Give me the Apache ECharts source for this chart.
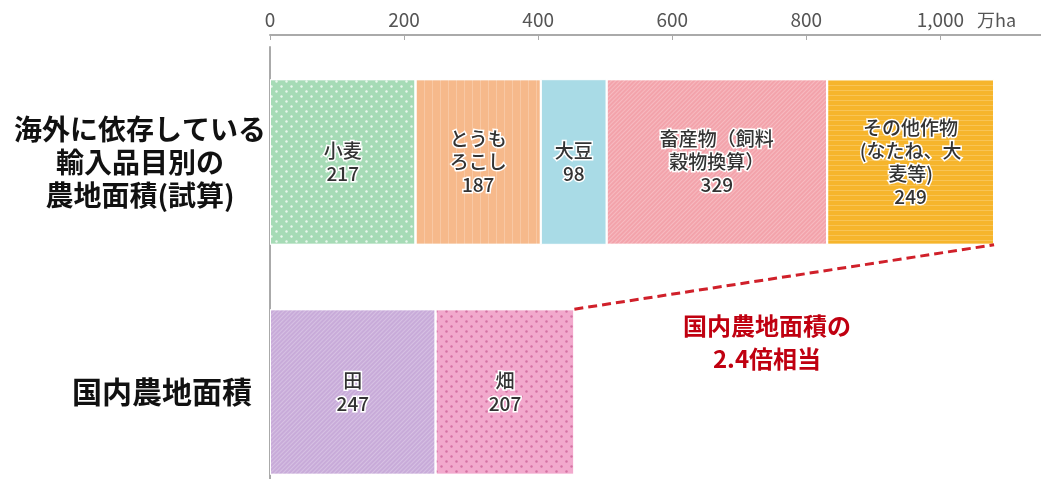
<!DOCTYPE html>
<html><head><meta charset="utf-8">
<script src="https://cdn.jsdelivr.net/npm/echarts@6/dist/echarts.min.js"></script>
<style>html,body{margin:0;padding:0;background:#fff}#c{width:1041px;height:479px}</style>
</head><body><div id="c"></div>
<script>
const categories = ['海外に依存している\n輸入品目別の\n農地面積(試算)', '国内農地面積'];
const importNames = ['小麦', 'とうも\nろこし', '大豆', '畜産物（飼料\n穀物換算）', 'その他作物\n(なたね、大\n麦等)'];
const importValues = [217, 187, 98, 329, 249];
const domesticNames = ['田', '畑'];
const domesticValues = [247, 207];
const xTickValues = [0, 200, 400, 600, 800, 1000];
const annotationLines = ['国内農地面積の', '2.4倍相当'];

const FONT = '"Noto Sans CJK JP", "Noto Sans", sans-serif';
const categoryTextStyles = [
  { fontSize: 28, lineHeight: 33, align: 'center', padding: [0, 0, 22, 0] },
  { fontSize: 30, lineHeight: 34, align: 'center', padding: [0, 0, 0, 44] }
];
const importStyles = [
  { color: '#a6dbb6', decal: { symbol: 'circle', symbolSize: 0.8, color: 'rgba(255,255,255,0.75)', dashArrayX: [[3, 7], [0, 5, 3, 2]], dashArrayY: [3, 2] } },
  { color: '#f6b98b', decal: { symbol: 'rect', symbolSize: 1, color: 'rgba(255,255,255,0.22)', dashArrayX: [1, 7], dashArrayY: [10, 0] } },
  { color: '#a9dbe6' },
  { color: '#f3a3ab', decal: { symbol: 'rect', symbolSize: 1, color: 'rgba(255,255,255,0.25)', dashArrayX: [1, 0], dashArrayY: [1, 2], rotation: -Math.PI / 4 } },
  { color: '#f6b52c', decal: { symbol: 'rect', symbolSize: 1, color: 'rgba(255,255,255,0.2)', dashArrayX: [1, 0], dashArrayY: [1, 4] } }
];
const domesticStyles = [
  { color: '#c8abd9', decal: { symbol: 'rect', symbolSize: 1, color: 'rgba(255,255,255,0.25)', dashArrayX: [1, 0], dashArrayY: [1, 2], rotation: -Math.PI / 4 } },
  { color: '#f2a9cd', decal: { symbol: 'circle', symbolSize: 0.8, color: 'rgba(190,70,130,0.55)', dashArrayX: [[3, 7], [0, 5, 3, 2]], dashArrayY: [3, 2] } }
];

const BAR_RATIO = 0.72;
const labelCfg = {
  show: true, position: 'inside', color: '#333', fontSize: 19, lineHeight: 23, fontWeight: 500,
  fontFamily: FONT, textBorderColor: '#fff', textBorderWidth: 3, align: 'center'
};

const series = [];
importValues.forEach((v, i) => {
  series.push({
    type: 'bar', stack: 'total', name: importNames[i], barWidth: (BAR_RATIO * 100) + '%',
    data: [v, '-'],
    itemStyle: Object.assign({ borderColor: '#fff', borderWidth: 1 }, importStyles[i]),
    label: Object.assign({ formatter: importNames[i] + '\n' + v }, labelCfg)
  });
});
domesticValues.forEach((v, i) => {
  series.push({
    type: 'bar', stack: 'total', name: domesticNames[i], barWidth: (BAR_RATIO * 100) + '%',
    data: ['-', v],
    itemStyle: Object.assign({ borderColor: '#fff', borderWidth: 1 }, domesticStyles[i]),
    label: Object.assign({ formatter: domesticNames[i] + '\n' + v }, labelCfg)
  });
});
const importTotal = importValues.reduce((a, b) => a + b, 0);
const domesticTotal = domesticValues.reduce((a, b) => a + b, 0);
series.push({
  type: 'custom', silent: true, z: 10,
  data: [[domesticTotal, 1, importTotal, 0]],
  encode: { x: [0, 2], y: [1, 3] },
  renderItem: function (params, api) {
    const band = api.size([0, 1])[1];
    const half = band * BAR_RATIO / 2;
    const p1 = api.coord([api.value(0), api.value(1)]);
    const p2 = api.coord([api.value(2), api.value(3)]);
    return {
      type: 'line',
      shape: { x1: p1[0], y1: p1[1] - half, x2: p2[0], y2: p2[1] + half },
      style: { stroke: '#d0202a', lineWidth: 3, lineDash: [9, 5] }
    };
  }
});

const chart = echarts.init(document.getElementById('c'));
chart.setOption({
  animation: false,
  backgroundColor: '#fff',
  grid: { left: 270, width: 771, top: 47, height: 460, outerBoundsMode: 'none', containLabel: false },
  xAxis: {
    type: 'value', position: 'top', offset: 12, min: 0, max: 1150, interval: 200,
    name: '万ha', nameLocation: 'end', nameGap: -64,
    nameTextStyle: { color: '#555', fontSize: 18, fontFamily: FONT, verticalAlign: 'bottom', padding: [0, 0, 6, 0] },
    axisLine: { show: true, lineStyle: { color: '#aaa', width: 2 } },
    axisTick: { show: true, inside: true, length: 5, lineStyle: { color: '#aaa' } },
    axisLabel: { color: '#555', fontSize: 19, fontFamily: FONT, showMaxLabel: false, margin: 6,
      formatter: v => xTickValues.indexOf(v) >= 0 ? v.toLocaleString('en-US') : '' },
    splitLine: { show: false }
  },
  yAxis: {
    type: 'category', inverse: true,
    data: categories.map((c, i) => ({ value: c, textStyle: categoryTextStyles[i] })),
    axisLine: { show: true, lineStyle: { color: '#aaa', width: 2 } },
    axisTick: { show: false },
    axisLabel: { color: '#111', fontSize: 28, fontWeight: 'bold', fontFamily: FONT, lineHeight: 33, align: 'center', margin: 130 }
  },
  graphic: [{
    type: 'text', x: 767, y: 342,
    style: { text: annotationLines.join('\n'), fill: '#c00010', font: 'bold 24px ' + FONT, lineHeight: 33, align: 'center', verticalAlign: 'middle' }
  }],
  series: series
});
</script></body></html>
